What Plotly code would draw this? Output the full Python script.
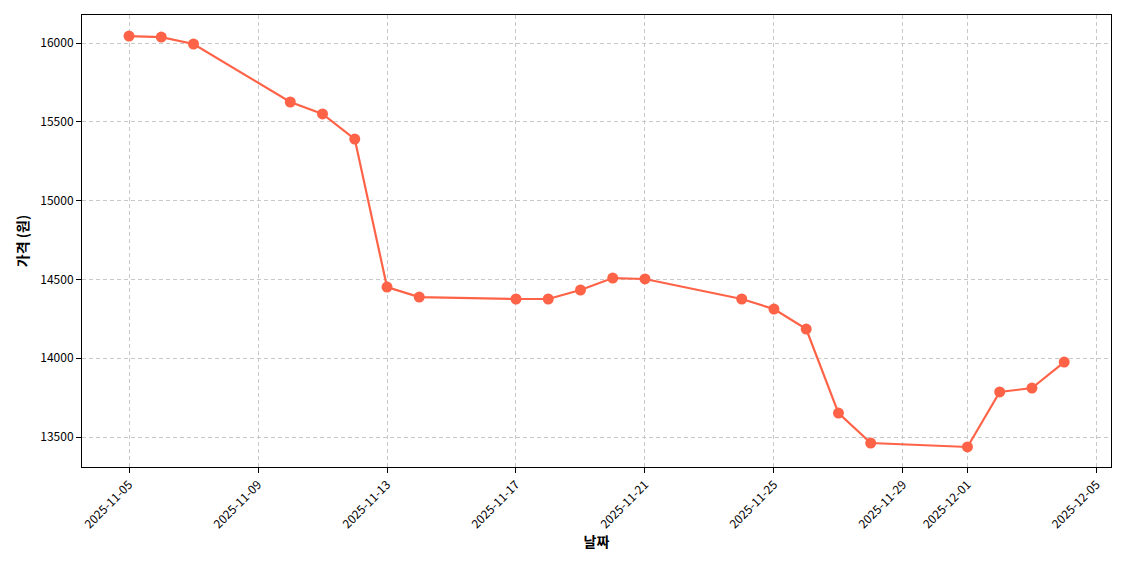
import plotly.graph_objects as go

dates = ["2025-11-05","2025-11-06","2025-11-07","2025-11-10","2025-11-11","2025-11-12",
         "2025-11-13","2025-11-14","2025-11-17","2025-11-18","2025-11-19","2025-11-20",
         "2025-11-21","2025-11-24","2025-11-25","2025-11-26","2025-11-27","2025-11-28",
         "2025-12-01","2025-12-02","2025-12-03","2025-12-04"]
prices = [16044,16038,15994,15626,15550,15391,14452,14388,14376,14376,14433,14509,
          14503,14376,14312,14185,13652,13462,13437,13786,13811,13976]
tick_dates = ["2025-11-05","2025-11-09","2025-11-13","2025-11-17","2025-11-21",
              "2025-11-25","2025-11-29","2025-12-01","2025-12-05"]

fig = go.Figure(go.Scatter(x=dates, y=prices, mode="lines+markers",
    line=dict(color="#FF6347", width=2.2), marker=dict(color="#FF6347", size=11)))
font = "Noto Sans CJK KR"
fig.update_layout(width=1140, height=570, plot_bgcolor="white", paper_bgcolor="white",
    margin=dict(l=74, r=37, t=7, b=111, autoexpand=False), showlegend=False,
    font=dict(family=font, size=12, color="black"))
grid = dict(showgrid=True, gridcolor="#c8c8c8", griddash="4px,3px", gridwidth=1,
            showline=True, linecolor="black", mirror=True, ticks="outside",
            tickcolor="black", zeroline=False)
fig.update_xaxes(**grid, type="date", range=["2025-11-03 13:00","2025-12-05 10:50"],
    tickvals=tick_dates, tickformat="%Y-%m-%d", tickangle=-45,
    title=dict(text="<b>날짜</b>", font=dict(size=14), standoff=4))
fig.update_yaxes(**grid, range=[13310,16178], dtick=500, tickformat="d",
    title=dict(text="<b>가격 (원)</b>", font=dict(size=14), standoff=8))
fig.write_html("out.html")
